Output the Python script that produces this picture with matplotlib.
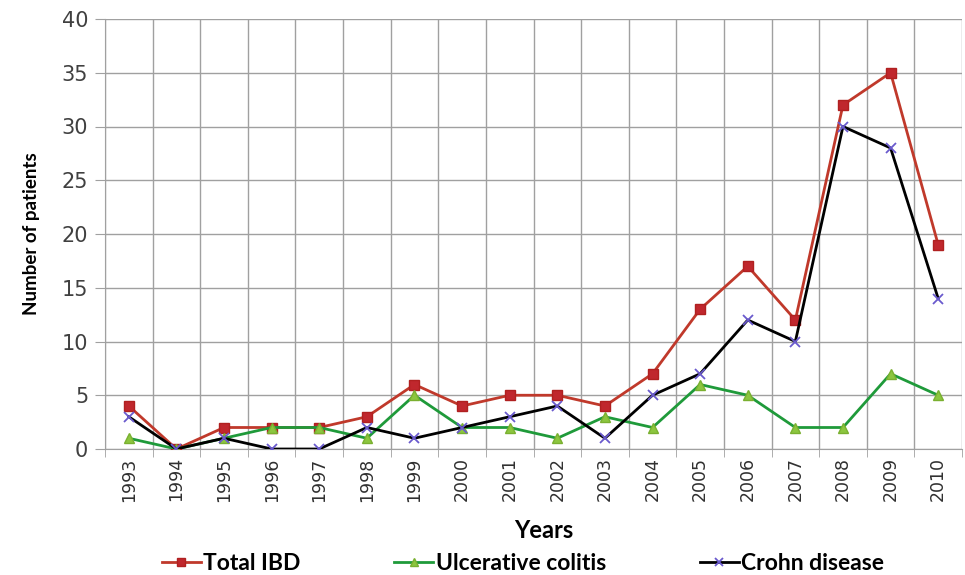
import numpy as np
import matplotlib
matplotlib.use("Agg")
import matplotlib.pyplot as plt
from matplotlib.ticker import MultipleLocator, FixedLocator

years = [str(y) for y in range(1993, 2011)]
total_ibd = [4, 0, 2, 2, 2, 3, 6, 4, 5, 5, 4, 7, 13, 17, 12, 32, 35, 19]
ulcerative_colitis = [1, 0, 1, 2, 2, 1, 5, 2, 2, 1, 3, 2, 6, 5, 2, 2, 7, 5]
crohn_disease = [3, 0, 1, 0, 0, 2, 1, 2, 3, 4, 1, 5, 7, 12, 10, 30, 28, 14]

grid_col = "#a0a0a0"
bold_font = "Lato"

fig = plt.figure(figsize=(9.65, 5.75), dpi=100)
ax = fig.add_axes([105 / 965, 1 - 449 / 575, 857 / 965, 430 / 575])

x = np.arange(len(years))
ax.plot(x, total_ibd, color="#c0392b", lw=2, marker="s", ms=7.5,
        mfc="#c0272d", mec="#b02020", label="Total IBD", zorder=3)
ax.plot(x, ulcerative_colitis, color="#1f9a3a", lw=2, marker="^", ms=7.5,
        mfc="#8cc63f", mec="#7ab030", label="Ulcerative colitis", zorder=4)
ax.plot(x, crohn_disease, color="#000000", lw=2, marker="x", ms=7.5,
        mec="#6a5acd", mew=1.3, label="Crohn disease", zorder=5)

ax.set_xlim(-0.5, len(years) - 0.5)
ax.set_ylim(0, 40)
ax.yaxis.set_major_locator(MultipleLocator(5))
ax.set_xticks(x)
ax.set_xticklabels(years, rotation=90, fontsize=12.5, color="#303030")
ax.xaxis.set_minor_locator(FixedLocator(np.arange(-0.5, len(years), 1)))
ax.tick_params(axis="x", which="major", length=0, pad=6)
ax.tick_params(axis="x", which="minor", length=6, color=grid_col)
ax.tick_params(axis="y", length=7, color=grid_col, labelsize=15,
               labelcolor="#404040", pad=5)
ax.grid(True, axis="y", color=grid_col, lw=1)
ax.grid(True, axis="x", which="minor", color=grid_col, lw=1)
ax.set_axisbelow(True)
for s in ["top", "right"]:
    ax.spines[s].set_visible(False)
for s in ["left", "bottom"]:
    ax.spines[s].set_color(grid_col)

ax.set_ylabel("Number of patients", fontsize=13.5, fontweight="bold",
              family=bold_font, labelpad=8)
ax.yaxis.set_label_coords(-65 / 857, 0.5)
ax.set_xlabel("Years", fontsize=17, fontweight="bold", family=bold_font)
ax.xaxis.set_label_coords(0.512, -(531 - 449) / 430)
ax.xaxis.label.set_va("center")

leg = fig.legend(loc="center", bbox_to_anchor=(0.542, 1 - 564 / 575), ncol=3,
                 frameon=False, prop={"family": bold_font, "weight": "bold", "size": 16.5},
                 handlelength=1.7, columnspacing=4.1, handletextpad=0.1,
                 markerscale=0.8)

fig.savefig("out.png", dpi=100)
